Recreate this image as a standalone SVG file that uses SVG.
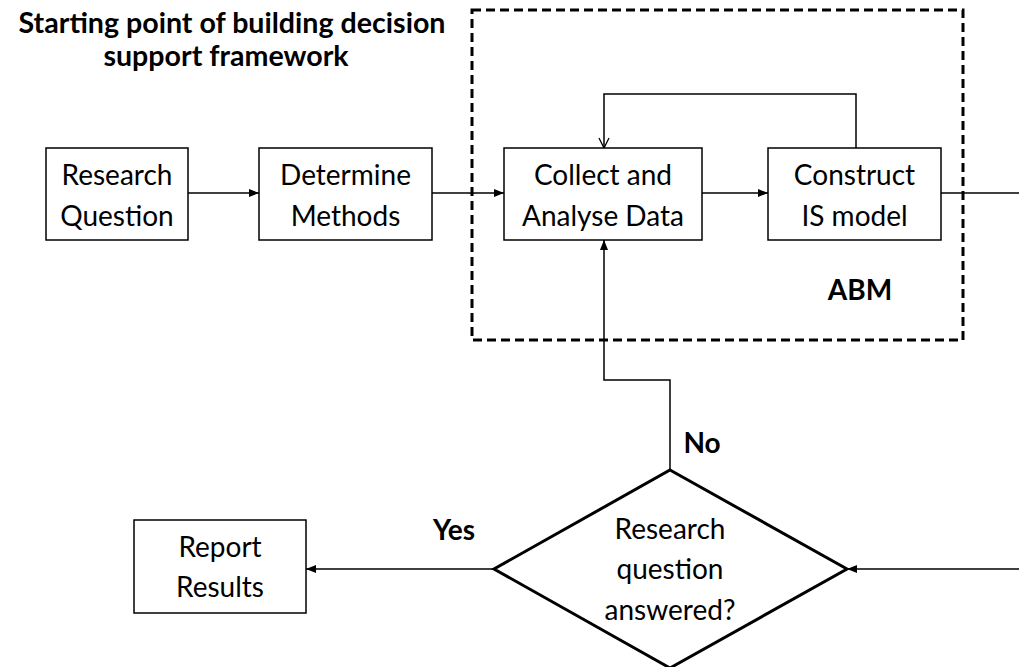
<svg xmlns="http://www.w3.org/2000/svg" width="1019" height="667" viewBox="0 0 1019 667">
  <style>
    .box { fill: #ffffff; stroke: #000000; stroke-width: 1.5; }
    .diamond { fill: #ffffff; stroke: #000000; stroke-width: 3; }
    .frame { fill: none; stroke: #000000; stroke-width: 3; stroke-dasharray: 9 5; }
    .wire { fill: none; stroke: #000000; stroke-width: 1.5; }
    .label { font-family: Lato, "Open Sans", sans-serif; font-size: 28px; fill: #000000; text-anchor: middle; }
    .bold { font-family: Lato, "Open Sans", sans-serif; font-size: 28px; font-weight: bold; fill: #000000; text-anchor: middle; }
    .heading { font-size: 28.6px; }
  </style>
  <defs>
    <marker id="solid" viewBox="0 0 10 10" refX="10" refY="5" markerWidth="10" markerHeight="10" markerUnits="userSpaceOnUse" orient="auto">
      <path d="M0,1 L10,5 L0,9 Z" fill="#000000"/>
    </marker>
    <marker id="open" viewBox="0 0 12 12" refX="11" refY="6" markerWidth="12" markerHeight="12" markerUnits="userSpaceOnUse" orient="auto">
      <path d="M1,1 L11,6 L1,11" fill="none" stroke="#000000" stroke-width="1.3"/>
    </marker>
  </defs>

  <rect width="1019" height="667" fill="#ffffff"/>

  <!-- title -->
  <g id="title">
    <text class="bold heading" x="232" y="33">Starting point of building decision</text>
    <text class="bold heading" x="226" y="66">support framework</text>
  </g>

  <!-- dashed ABM frame -->
  <g id="abm">
    <rect class="frame" x="472" y="10" width="491" height="330"/>
    <text class="bold" x="860" y="300">ABM</text>
  </g>

  <!-- connectors -->
  <g id="connectors">
    <line class="wire" x1="188" y1="193" x2="259" y2="193" marker-end="url(#solid)"/>
    <line class="wire" x1="432" y1="193" x2="504" y2="193" marker-end="url(#solid)"/>
    <line class="wire" x1="702" y1="193" x2="768" y2="193" marker-end="url(#solid)"/>
    <polyline class="wire" points="856,148 856,94 604,94 604,148" marker-end="url(#open)"/>
    <line class="wire" x1="941" y1="193" x2="1019" y2="193"/>
    <line class="wire" x1="1019" y1="569" x2="847" y2="569" marker-end="url(#solid)"/>
    <line class="wire" x1="494" y1="569" x2="306" y2="569" marker-end="url(#solid)"/>
    <polyline class="wire" points="670,470 670,380 604,380 604,240" marker-end="url(#solid)"/>
  </g>

  <g id="research-question">
    <rect class="box" x="46" y="148" width="142" height="92"/>
    <text class="label" x="117" y="185">Research</text>
    <text class="label" x="117" y="226">Question</text>
  </g>

  <g id="determine-methods">
    <rect class="box" x="259" y="148" width="173" height="92"/>
    <text class="label" x="345.5" y="185">Determine</text>
    <text class="label" x="345.5" y="226">Methods</text>
  </g>

  <g id="collect-data">
    <rect class="box" x="504" y="148" width="198" height="92"/>
    <text class="label" x="603" y="185">Collect and</text>
    <text class="label" x="603" y="226">Analyse Data</text>
  </g>

  <g id="construct-model">
    <rect class="box" x="768" y="148" width="173" height="92"/>
    <text class="label" x="854.5" y="185">Construct</text>
    <text class="label" x="854.5" y="226">IS model</text>
  </g>

  <g id="decision">
    <polygon class="diamond" points="670,470 847,569 670,668 494,569"/>
    <text class="label" x="670" y="539">Research</text>
    <text class="label" x="670" y="579">question</text>
    <text class="label" x="670" y="620">answered?</text>
    <text class="bold" x="454" y="540">Yes</text>
    <text class="bold" x="702" y="453">No</text>
  </g>

  <g id="report-results">
    <rect class="box" x="134" y="520" width="172" height="93"/>
    <text class="label" x="220" y="557">Report</text>
    <text class="label" x="220" y="597">Results</text>
  </g>
</svg>
